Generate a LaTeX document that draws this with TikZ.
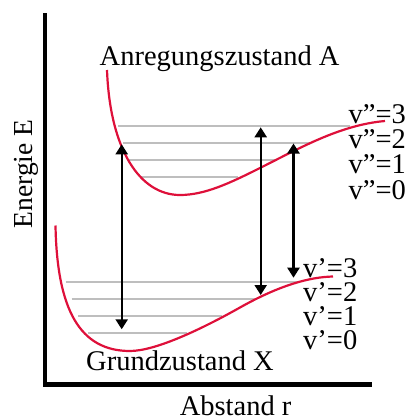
\documentclass[tikz,border=0pt]{standalone}
\usepackage{fontspec}
\setmainfont{Liberation Serif}
\usetikzlibrary{arrows.meta}

\definecolor{potrot}{RGB}{222,16,58}
\definecolor{niveau}{RGB}{190,190,190}

\tikzset{
  achse/.style={line width=4.5pt, line cap=butt, line join=miter},
  potential/.style={draw=potrot, line width=2.2pt},
  schwingung/.style={draw=niveau, line width=2.3pt},
  uebergang/.style={line width=2.3pt, {Triangle[width=12pt,length=10pt]}-{Triangle[width=12pt,length=10pt]}},
  beschriftung/.style={inner sep=0pt, anchor=base west, font=\fontsize{28.5}{34}\selectfont},
}

\begin{document}
\begin{tikzpicture}[x=1pt,y=-1pt]
\useasboundingbox (0,0) rectangle (411,416);

% axes
\draw[achse] (45,13.3) -- (45,384.5) -- (372.3,384.5);
\node[beschriftung, rotate=90, font=\fontsize{27.5}{33}\selectfont] (energie) at (32,228.5) {Energie E};
\node[beschriftung] (abstand) at (179.6,415.5) {Abstand r};

% vibrational levels
\foreach \y/\xa/\xb in {125.7/118/350, 142.7/123/310, 160/129.3/277, 177.3/140/238.3}
  \draw[schwingung] (\xa,\y) -- (\xb,\y);
\foreach \y/\xa/\xb in {281.7/65.7/300, 299/71.7/257, 316/78.3/221.7, 333/88.3/186.7}
  \draw[schwingung] (\xa,\y) -- (\xb,\y);

% -------- ground state X --------
\draw[potential] (55.5,225.5) .. controls (57,310) and (80,351) .. (130,351)
  .. controls (155,351) and (200,330) .. (240,307.5)
  .. controls (280,285) and (310,277) .. (333,276.5);
\node[beschriftung] (grund) at (86,370) {Grundzustand X};

% -------- excited state A --------
\draw[potential] (107,70) .. controls (110,150) and (140,195) .. (180,195)
  .. controls (205,195) and (230,183) .. (260,168)
  .. controls (300,148) and (340,125) .. (385,121);
\node[beschriftung] (anregung) at (99.5,65) {Anregungszustand A};

% level labels
\foreach \n/\y in {3/123,2/148.3,1/173.3,0/199}
  \node[beschriftung] (vA\n) at (348.5,\y) {v”=\n};
\foreach \n/\y in {3/277.7,2/301.7,1/325,0/349.3}
  \node[beschriftung] (vX\n) at (303,\y) {v’=\n};

% transitions
\coordinate (a1o) at (121.7,144.3);
\coordinate (a1u) at (121.7,329.3);
\coordinate (a2o) at (260.7,127.3);
\coordinate (a2u) at (260.7,295);
\coordinate (a3o) at (293.5,143.5);
\coordinate (a3u) at (293.5,277.7);
\draw[uebergang] (a1u) -- (a1o);
\draw[uebergang] (a2u) -- (a2o);
\draw[uebergang] (a3u) -- (a3o);

\end{tikzpicture}
\end{document}
